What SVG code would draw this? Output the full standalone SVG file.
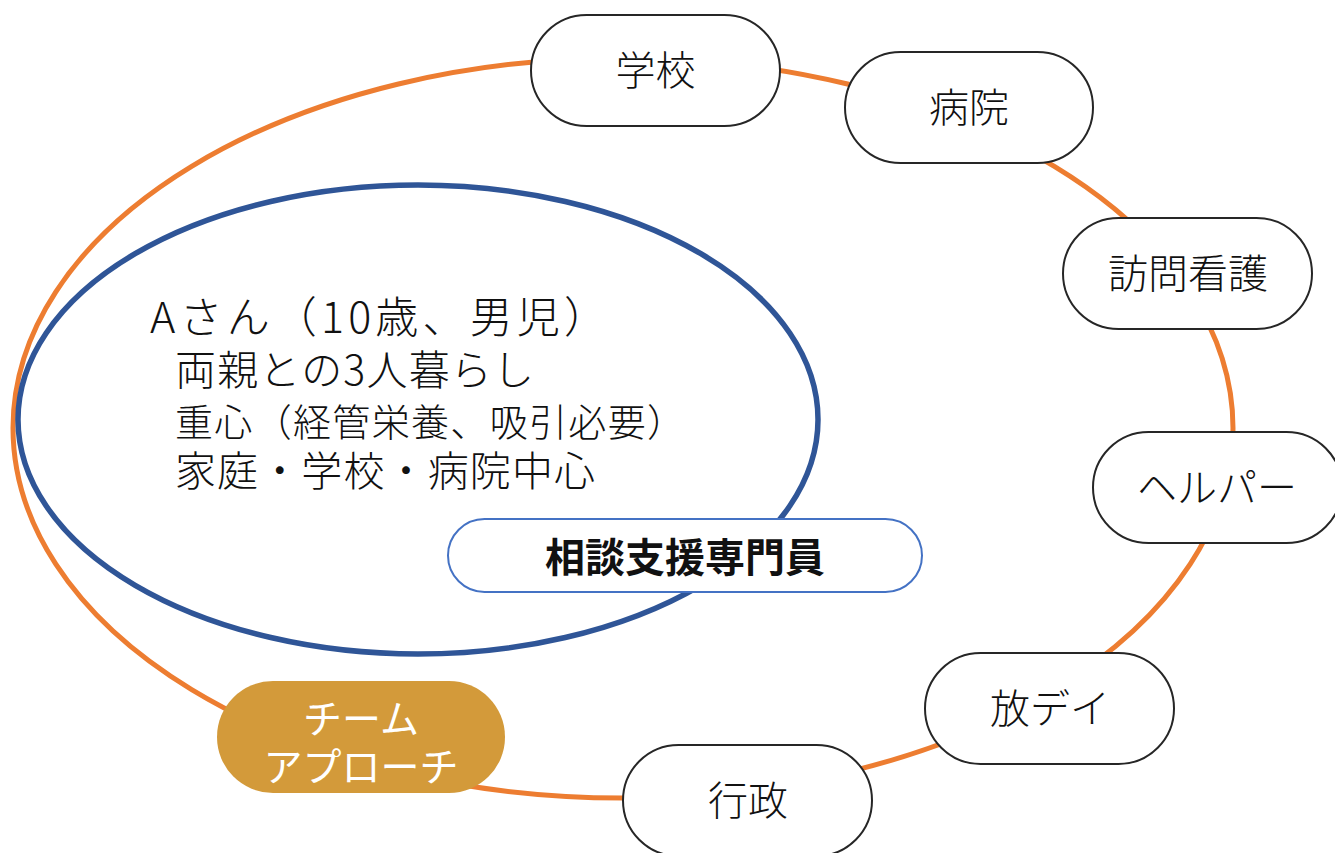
<svg xmlns="http://www.w3.org/2000/svg" width="1335" height="853" viewBox="0 0 1335 853">
<style>
text{font-family:"Noto Sans CJK JP","Noto Sans CJK SC",sans-serif;fill:#111;}
.node rect{fill:#fff;stroke:#262626;stroke-width:2;}
.lbl{font-size:40px;text-anchor:middle;dominant-baseline:central;font-weight:300;}
.main{font-weight:300;}
.team{font-size:39px;text-anchor:middle;dominant-baseline:central;}
</style>
<rect width="1335" height="853" fill="#fff"/>
<g id="connectors">
<ellipse cx="623" cy="428" rx="610" ry="370" fill="none" stroke="#ED7D31" stroke-width="5"/>
</g>
<g id="person">
<ellipse cx="418" cy="419.5" rx="400" ry="234.5" fill="#fff" stroke="#2F5597" stroke-width="5.5"/>
<text class="main" x="150" y="333" font-size="43" textLength="457">Aさん（10歳、男児）</text>
<text class="main" x="175" y="385" font-size="41" textLength="359">両親との3人暮らし</text>
<text class="main" x="175" y="436" font-size="38" textLength="510">重心（経管栄養、吸引必要）</text>
<text class="main" x="175" y="486" font-size="41" textLength="420">家庭・学校・病院中心</text>
</g>
<g id="soudan">
<rect x="448" y="519" width="474" height="73" rx="36.5" fill="#fff" stroke="#4472C4" stroke-width="2"/>
<text x="685" y="555" font-size="40" font-weight="bold" text-anchor="middle" dominant-baseline="central">相談支援専門員</text>
</g>
<g id="gakkou" class="node"><rect x="531" y="15" width="249" height="111" rx="55.5"/><text class="lbl" x="655.5" y="68">学校</text></g>
<g id="byouin" class="node"><rect x="845" y="52" width="248" height="111" rx="55.5"/><text class="lbl" x="969" y="105">病院</text></g>
<g id="houmon" class="node"><rect x="1063" y="218" width="249" height="111" rx="55.5"/><text class="lbl" x="1188" y="271">訪問看護</text></g>
<g id="helper" class="node"><rect x="1093" y="432" width="249" height="111" rx="55.5"/><text class="lbl" x="1217" y="485">ヘルパー</text></g>
<g id="houday" class="node"><rect x="925" y="653" width="249" height="111" rx="55.5"/><text class="lbl" x="1050" y="706">放デイ</text></g>
<g id="gyousei" class="node"><rect x="623" y="745" width="249" height="111" rx="55.5"/><text class="lbl" x="748" y="798">行政</text></g>
<g id="team">
<rect x="217" y="681" width="288" height="112" rx="56" fill="#D39A3A"/>
<text class="team" x="361" y="716" style="fill:#fff">チーム</text>
<text class="team" x="361" y="764" style="fill:#fff">アプローチ</text>
</g>
</svg>
